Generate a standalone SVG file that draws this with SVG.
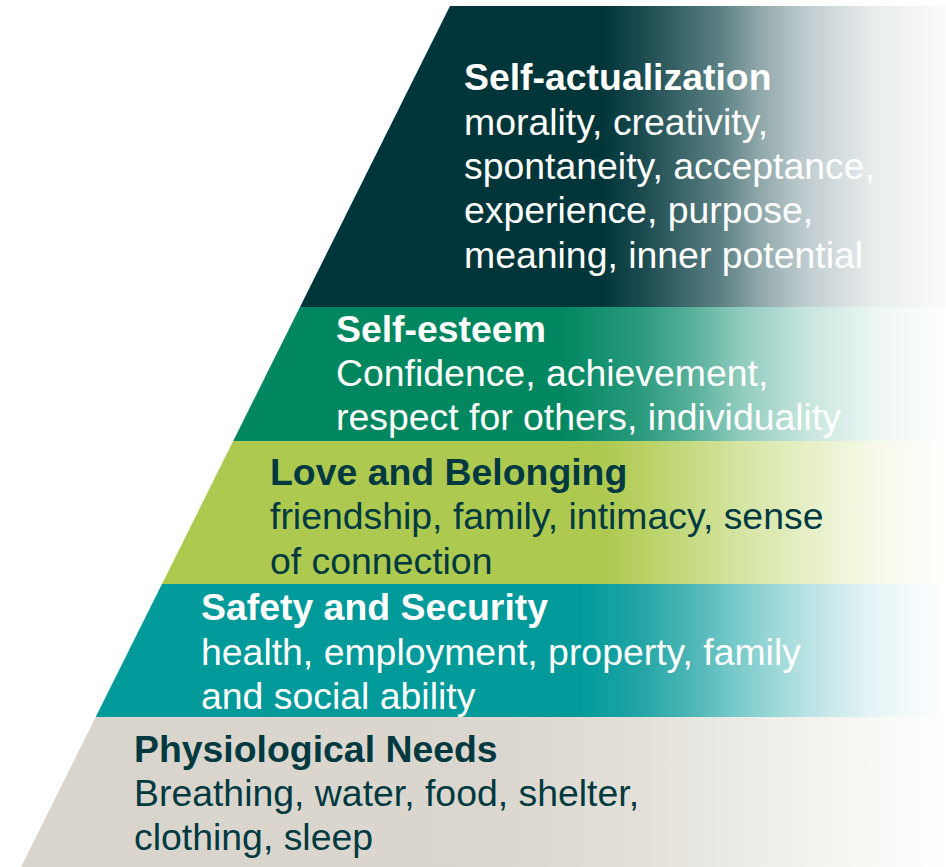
<svg xmlns="http://www.w3.org/2000/svg" width="946" height="867" viewBox="0 0 946 867">
  <defs>
    <linearGradient id="gTop" gradientUnits="userSpaceOnUse" x1="0" y1="0" x2="946" y2="0">
      <stop offset="0" stop-color="#00353a"/>
      <stop offset="0.634" stop-color="#00353a"/>
      <stop offset="0.677" stop-color="#1a4a4e"/>
      <stop offset="0.761" stop-color="#5b8083"/>
      <stop offset="0.803" stop-color="#8fa8aa"/>
      <stop offset="0.853" stop-color="#c0cdd0"/>
      <stop offset="0.923" stop-color="#e8ecec"/>
      <stop offset="1" stop-color="#fbfbfb"/>
    </linearGradient>
    <linearGradient id="gEsteem" gradientUnits="userSpaceOnUse" x1="0" y1="0" x2="946" y2="0">
      <stop offset="0" stop-color="#00875f"/>
      <stop offset="0.592" stop-color="#00875f"/>
      <stop offset="0.677" stop-color="#2a9b7e"/>
      <stop offset="0.740" stop-color="#60b4a0"/>
      <stop offset="0.782" stop-color="#8fcbbd"/>
      <stop offset="0.853" stop-color="#c6e5de"/>
      <stop offset="0.923" stop-color="#ecf6f3"/>
      <stop offset="1" stop-color="#ffffff"/>
    </linearGradient>
    <linearGradient id="gLove" gradientUnits="userSpaceOnUse" x1="0" y1="0" x2="946" y2="0">
      <stop offset="0" stop-color="#adc94f"/>
      <stop offset="0.634" stop-color="#adc94f"/>
      <stop offset="0.677" stop-color="#b8d062"/>
      <stop offset="0.782" stop-color="#d5e4a2"/>
      <stop offset="0.853" stop-color="#e6efc6"/>
      <stop offset="0.923" stop-color="#f6f9e8"/>
      <stop offset="1" stop-color="#ffffff"/>
    </linearGradient>
    <linearGradient id="gSafety" gradientUnits="userSpaceOnUse" x1="0" y1="0" x2="946" y2="0">
      <stop offset="0" stop-color="#009a9a"/>
      <stop offset="0.613" stop-color="#009a9a"/>
      <stop offset="0.677" stop-color="#23a5a6"/>
      <stop offset="0.740" stop-color="#55b9b9"/>
      <stop offset="0.782" stop-color="#7ccccc"/>
      <stop offset="0.853" stop-color="#b9e2e3"/>
      <stop offset="0.923" stop-color="#e6f4f7"/>
      <stop offset="1" stop-color="#ffffff"/>
    </linearGradient>
    <linearGradient id="gPhys" gradientUnits="userSpaceOnUse" x1="0" y1="0" x2="946" y2="0">
      <stop offset="0" stop-color="#d8d4cb"/>
      <stop offset="0.529" stop-color="#dbd7cf"/>
      <stop offset="0.677" stop-color="#e3e0d9"/>
      <stop offset="0.782" stop-color="#ecebe5"/>
      <stop offset="0.923" stop-color="#f8f8f5"/>
      <stop offset="1" stop-color="#ffffff"/>
    </linearGradient>
  </defs>
  <style>
    text { font-family: "Liberation Sans", Arial, sans-serif; font-size: 37.4px; }
    .t { font-weight: bold; }
    .light { fill: #ffffff; }
    .dark { fill: #003a40; }
  </style>
  <rect x="0" y="0" width="946" height="867" fill="#ffffff"/>

  <g id="self-actualization">
    <polygon points="450,6 946,6 946,307 300,307" fill="url(#gTop)"/>
    <text class="light t" x="464" y="90">Self-actualization</text>
    <text class="light" x="464" y="135">morality, creativity,</text>
    <text class="light" x="464" y="179">spontaneity, acceptance,</text>
    <text class="light" x="464" y="223">experience, purpose,</text>
    <text class="light" x="464" y="268">meaning, inner potential</text>
  </g>

  <g id="self-esteem">
    <polygon points="300,307 946,307 946,441 233.2,441" fill="url(#gEsteem)"/>
    <text class="light t" x="336" y="342">Self-esteem</text>
    <text class="light" x="336" y="386">Confidence, achievement,</text>
    <text class="light" x="336" y="430">respect for others, individuality</text>
  </g>

  <g id="love-belonging">
    <polygon points="233.2,441 946,441 946,584 162,584" fill="url(#gLove)"/>
    <text class="dark t" x="270" y="485">Love and Belonging</text>
    <text class="dark" x="270" y="529">friendship, family, intimacy, sense</text>
    <text class="dark" x="270" y="574">of connection</text>
  </g>

  <g id="safety-security">
    <polygon points="162,584 946,584 946,717 95.7,717" fill="url(#gSafety)"/>
    <text class="light t" x="201" y="620">Safety and Security</text>
    <text class="light" x="201" y="665">health, employment, property, family</text>
    <text class="light" x="201" y="709">and social ability</text>
  </g>

  <g id="physiological-needs">
    <polygon points="95.7,717 946,717 946,867 21,867" fill="url(#gPhys)"/>
    <text class="dark t" x="134" y="762">Physiological Needs</text>
    <text class="dark" x="134" y="806">Breathing, water, food, shelter,</text>
    <text class="dark" x="134" y="850">clothing, sleep</text>
  </g>

  <g id="connectors"/>
</svg>
